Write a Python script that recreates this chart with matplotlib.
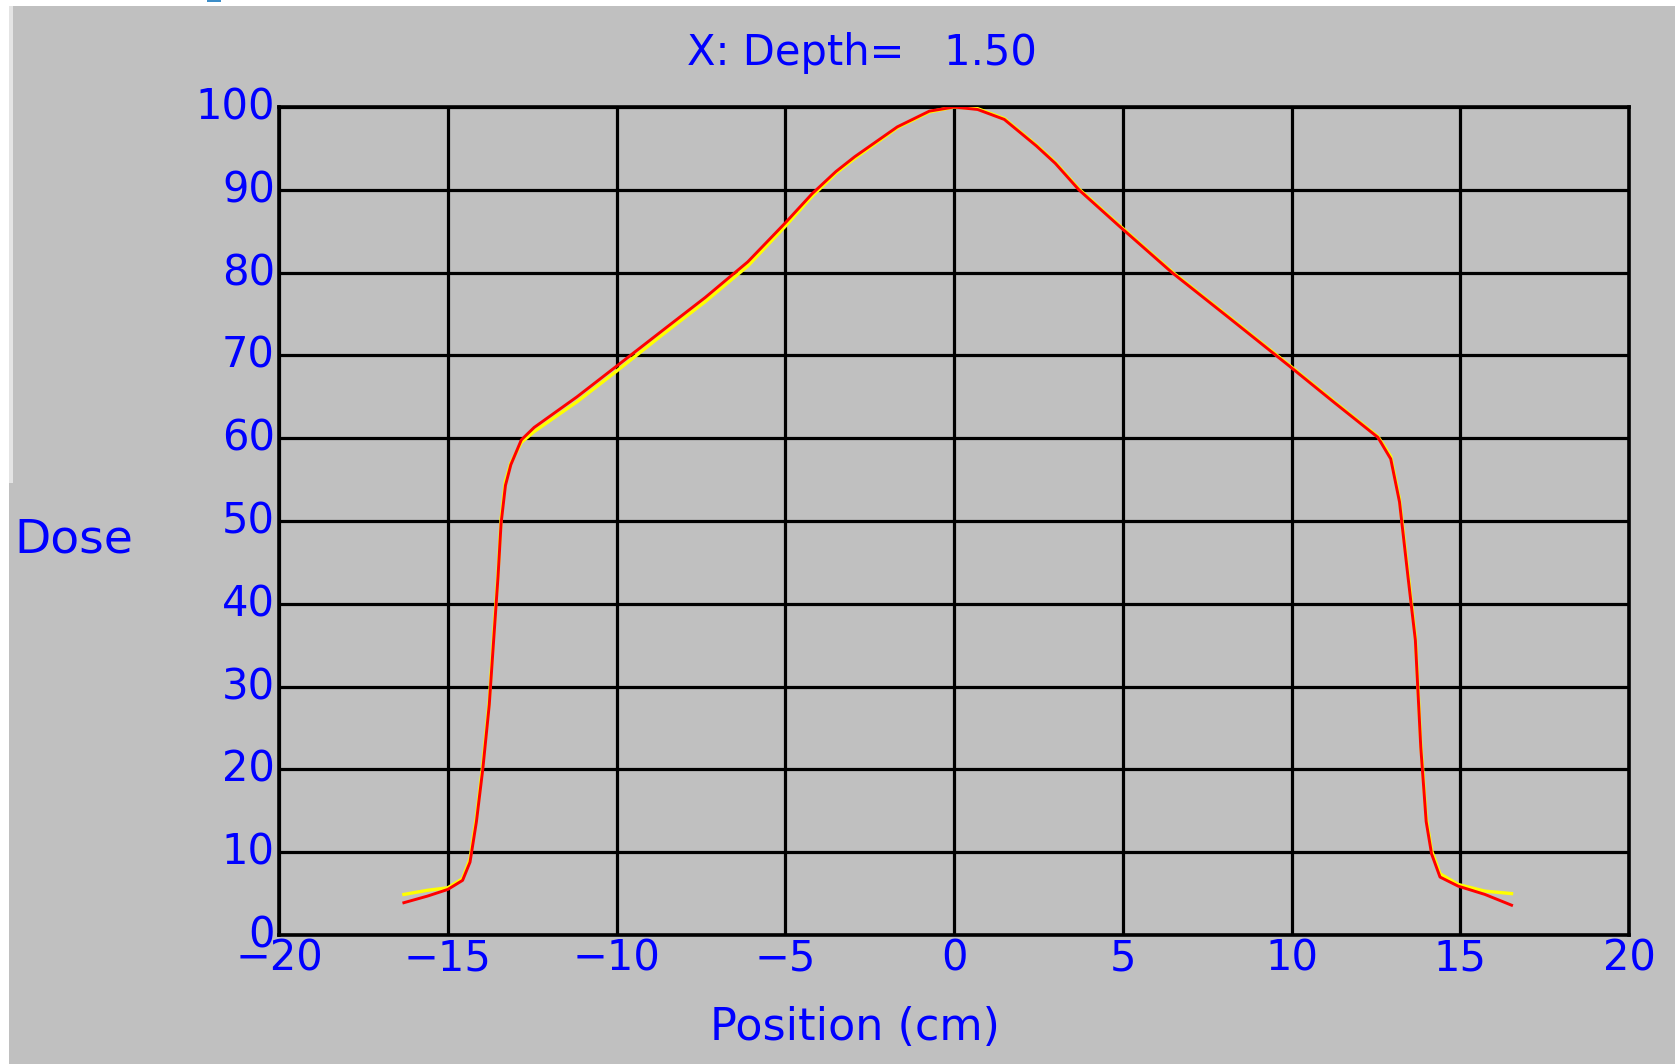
import matplotlib
matplotlib.use("Agg")
import matplotlib.pyplot as plt
from matplotlib.patches import Rectangle
import matplotlib.transforms as mtransforms

# ---- data ----
pos_red = [-16.3, -15.6, -15.0, -14.56, -14.34, -14.15, -13.96, -13.77, -13.64, -13.51,
           -13.42, -13.29, -13.13, -12.82, -12.44, -11.17, -10.03, -8.64, -7.37, -6.11,
           -5.0, -4.21, -3.5, -2.94, -1.68, -0.73, 0.0, 0.7, 1.49, 2.44, 3.0, 3.7, 4.9,
           6.46, 8.13, 9.94, 11.30, 12.56, 12.94, 13.2, 13.45, 13.67, 13.83, 13.99, 14.15,
           14.4, 14.94, 15.73, 16.52]
dose_red = [3.9, 4.7, 5.5, 6.6, 8.8, 13.7, 20.1, 27.8, 35.6, 43.3,
            49.7, 54.3, 56.8, 59.8, 61.3, 65.0, 68.6, 73.0, 77.0, 81.3,
            86.0, 89.5, 92.2, 94.0, 97.6, 99.5, 100.0, 99.7, 98.5, 95.3, 93.2, 90.0, 85.6,
            80.0, 74.6, 68.7, 64.2, 60.1, 57.5, 52.3, 43.3, 35.6, 22.7, 13.7, 9.8,
            7.0, 5.9, 4.9, 3.6]

pos_yel = [-16.3, -15.6, -15.0, -14.56, -14.34, -14.15, -13.96, -13.77, -13.64, -13.51,
           -13.42, -13.29, -13.13, -12.82, -12.44, -11.17, -10.03, -8.64, -7.37, -6.11,
           -5.0, -4.21, -3.5, -2.94, -1.68, -0.73, 0.0, 0.7, 1.49, 2.44, 3.0, 3.7, 4.9,
           6.46, 8.13, 9.94, 11.30, 12.56, 12.94, 13.2, 13.45, 13.67, 13.83, 13.99, 14.15,
           14.4, 14.94, 15.73, 16.52]
dose_yel = [4.9, 5.4, 5.7, 6.8, 9.2, 14.2, 20.6, 28.3, 36.2, 43.8,
            50.2, 54.8, 57.0, 59.5, 60.8, 64.4, 68.0, 72.5, 76.5, 80.8,
            85.6, 89.2, 92.0, 93.8, 97.5, 99.4, 100.0, 99.8, 98.6, 95.4, 93.3, 90.1, 85.7,
            80.1, 74.7, 68.8, 64.3, 60.2, 57.8, 52.6, 43.8, 36.0, 23.2, 14.2, 10.2,
            7.4, 6.1, 5.3, 5.0]

xticks = [-20, -15, -10, -5, 0, 5, 10, 15, 20]
yticks = [0, 10, 20, 30, 40, 50, 60, 70, 80, 90, 100]

BG = "#C0C0C0"
BLUE = "#0000FF"

W, H = 1675, 1064
fig = plt.figure(figsize=(W / 100, H / 100), dpi=100, facecolor=BG)

# window-edge decorations (figure pixel coords)
def frect(x0, y0, w, h, color):
    fig.patches.append(Rectangle((x0 / W, 1 - (y0 + h) / H), w / W, h / H,
                                 transform=fig.transFigure, color=color, lw=0, zorder=0))

frect(0, 0, W, 6, "white")
frect(0, 0, 9, H, "white")
frect(9, 6, 4, 477, "#E4E4E4")
frect(207, 0, 14, 2, "#3C8DC8")

left, right, top, bottom = 279, 1629, 107, 935
ax = fig.add_axes([left / W, 1 - bottom / H, (right - left) / W, (bottom - top) / H])
ax.set_facecolor(BG)

ax.plot(pos_yel, dose_yel, color="#FFFF00", lw=2.4, zorder=3)
ax.plot(pos_red, dose_red, color="#FF0000", lw=2.1, zorder=4)

ax.set_xlim(-20, 20)
ax.set_ylim(0, 100)
ax.set_xticks(xticks)
ax.set_yticks(yticks)
ax.set_xticklabels(["\u2212" + str(abs(v)) if v < 0 else str(v) for v in xticks])
ax.set_yticklabels([str(v) for v in yticks])
ax.grid(True, color="black", lw=2.3)
ax.set_axisbelow(True)
for s in ax.spines.values():
    s.set_color("black")
    s.set_linewidth(2.6)
ax.tick_params(length=0, labelcolor=BLUE, labelsize=30)
ax.tick_params(axis="x", pad=2)
ax.tick_params(axis="y", pad=3)
off = mtransforms.ScaledTranslation(0, 4 / 100, fig.dpi_scale_trans)
for lab in ax.get_yticklabels():
    lab.set_transform(lab.get_transform() + off)

fig.text(862 / W, 1 - 53 / H, "X: Depth=   1.50", color=BLUE, fontsize=30,
         ha="center", va="center")
fig.text(855 / W, 1 - 1027 / H, "Position (cm)", color=BLUE, fontsize=32,
         ha="center", va="center")
fig.text(14 / W, 1 - 540 / H, "Dose", color=BLUE, fontsize=34,
         ha="left", va="center")

fig.savefig("out.png", dpi=100, facecolor=BG)
